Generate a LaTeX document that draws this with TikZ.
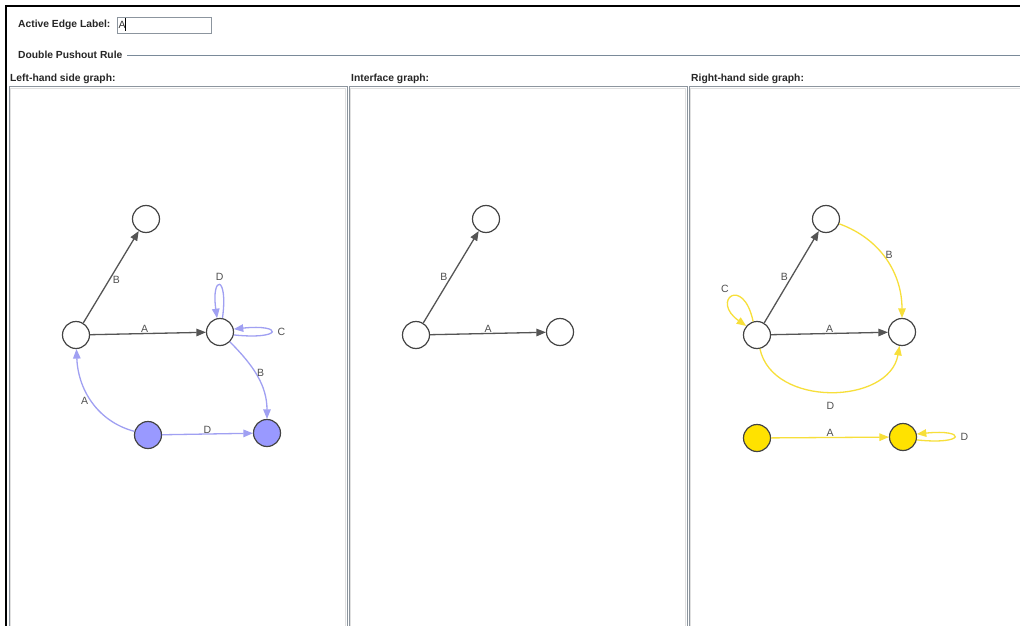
\documentclass[tikz,border=0pt]{standalone}
\usepackage{fontspec}
\setmainfont{Liberation Sans}
\usetikzlibrary{arrows.meta}
\definecolor{frameblue}{HTML}{7A8A99}
\definecolor{panelgray}{HTML}{8C959E}
\definecolor{nodeline}{HTML}{444444}
\definecolor{edgedark}{HTML}{555555}
\definecolor{lav}{HTML}{9999FF}
\definecolor{lavedge}{HTML}{A0A0F2}
\definecolor{yel}{HTML}{FFE200}
\definecolor{yeledge}{HTML}{F7DF3A}
\definecolor{lblgray}{HTML}{505050}
\tikzset{
  heading/.style={font=\bfseries\fontsize{10.3}{12}\selectfont, anchor=west, inner sep=0pt, text=black!85},
  vertex/.style={circle, draw=nodeline, line width=1.2pt, fill=white, minimum size=27pt, inner sep=0pt},
  lavvertex/.style={vertex, fill=lav},
  yelvertex/.style={vertex, fill=yel},
  arr/.style={-{Triangle[length=9.5pt,width=7.5pt]}, line width=1.3pt},
  darkedge/.style={arr, draw=edgedark},
  lavarrow/.style={arr, draw=lavedge},
  yelarrow/.style={arr, draw=yeledge},
  lbl/.style={font=\fontsize{10.5}{12}\selectfont, text=lblgray, inner sep=1pt},
  panel/.style={draw=panelgray, line width=0.8pt},
  panelinner/.style={draw=black!12, line width=0.6pt}
}
\begin{document}
\begin{tikzpicture}[x=1pt,y=-1pt]
\useasboundingbox (0,0) rectangle (1020,626);
\fill[white] (0,0) rectangle (1020,626);

% window frame
\draw[black, line width=1.2pt] (6,626) -- (6,6) -- (1020,6);

% active edge label field
\node[heading] (ael) at (18,25) {Active Edge Label:};
\draw[panelgray, line width=0.8pt, fill=white] (117,17) rectangle (211,33);
\node[lbl, anchor=west, text=black!80, inner sep=0pt] (fieldtext) at (118.5,25) {A};
\draw[black, line width=0.6pt] (125.5,18.5) -- (125.5,31.5);

% titled separator
\node[heading] (dpo) at (18,55) {Double Pushout Rule};
\draw[frameblue, line width=0.8pt] (127,55) -- (1020,55);

% panel titles
\node[heading] (lhs) at (10,79) {Left-hand side graph:};
\node[heading] (ifc) at (351,79) {Interface graph:};
\node[heading] (rhs) at (691,79) {Right-hand side graph:};

% panel borders
\draw[panel] (9,630) -- (9,86.5) -- (347,86.5) -- (347,630);
\draw[panelinner] (10.5,630) -- (10.5,88) -- (345.5,88) -- (345.5,630);
\draw[panel] (349,630) -- (349,86.5) -- (687,86.5) -- (687,630);
\draw[panelinner] (350.5,630) -- (350.5,88) -- (685.5,88) -- (685.5,630);
\draw[panel] (689,630) -- (689,86.5) -- (1022,86.5);
\draw[panelinner] (690.5,630) -- (690.5,88) -- (1022,88);

% ---------- left-hand side graph ----------
% (y axis points down, so polar control angles are negated)
\node[vertex] (l1) at (146,219) {};
\node[vertex] (l2) at (76,335) {};
\node[vertex] (l3) at (220,332) {};
\node[lavvertex] (l4) at (148,435) {};
\node[lavvertex] (l5) at (267,433) {};

\draw[darkedge] (l2) -- (l1) node[lbl, pos=.47, right=2pt] {B};
\draw[darkedge] (l2) -- (l3) node[lbl, pos=.47, above=-1pt] {A};
\draw[lavarrow] (l3.80) .. controls +(-82:44) and +(-98:44) .. (l3.102)
  node[lbl, pos=.5, above=3pt] {D};
\draw[lavarrow] (l3.-12) .. controls +(6:50) and +(-6:50) .. (l3.12)
  node[lbl, pos=.5, right=5pt] {C};
\draw[lavarrow] (l3) to[out=-45, in=90] node[lbl, pos=.45, right=0pt] {B} (l5);
\draw[lavarrow] (l4) to[out=165, in=-88] node[lbl, pos=.5, left=2pt] {A} (l2);
\draw[lavarrow] (l4) -- (l5) node[lbl, pos=.5, above=-1pt] {D};

% ---------- interface graph ----------
\node[vertex] (i1) at (486,219) {};
\node[vertex] (i2) at (416,335) {};
\node[vertex] (i3) at (560,332) {};

\draw[darkedge] (i2) -- (i1) node[lbl, pos=.5, left=2pt] {B};
\draw[darkedge] (i2) -- (i3) node[lbl, pos=.5, above=-1pt] {A};

% ---------- right-hand side graph ----------
\node[vertex] (r1) at (826,219) {};
\node[vertex] (r2) at (757,335) {};
\node[vertex] (r3) at (902,332) {};
\node[yelvertex] (r4) at (757,438) {};
\node[yelvertex] (r5) at (903,437) {};

\draw[darkedge] (r2) -- (r1) node[lbl, pos=.5, left=2pt] {B};
\draw[darkedge] (r2) -- (r3) node[lbl, pos=.5, above=-1pt] {A};
\draw[yelarrow] (r1) to[out=-20, in=90] node[lbl, pos=.45, right=1pt] {B} (r3);
\draw[yelarrow] (r2.106) .. controls +(-102:48) and +(-145:44) .. (r2.140)
  node[lbl, pos=.5, anchor=south east, inner sep=3pt] {C};
\draw[yelarrow] (r2) to[out=-78, in=-100, looseness=1.1] node[lbl, pos=.5, below=9pt] {D} (r3);
\draw[yelarrow] (r4) -- (r5) node[lbl, pos=.5, above=-1pt] {A};
\draw[yelarrow] (r5.-12) .. controls +(6:50) and +(-6:50) .. (r5.12)
  node[lbl, pos=.5, right=5pt] {D};
\end{tikzpicture}
\end{document}
